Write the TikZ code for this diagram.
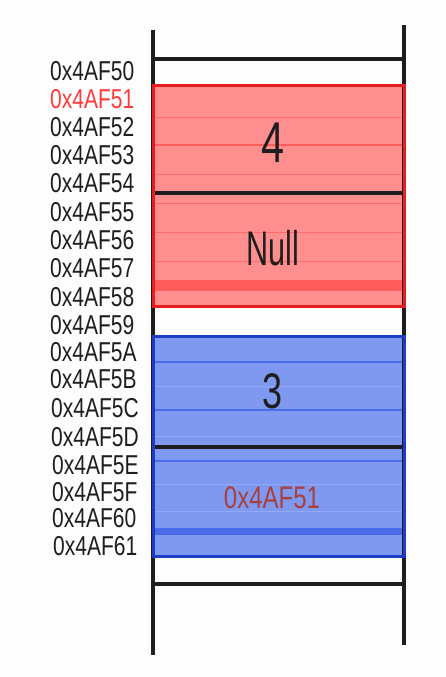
\documentclass[tikz,border=0pt]{standalone}
\usepackage{fontspec}
\usepackage{graphicx}
\setmainfont{Liberation Sans}
\definecolor{bg}{HTML}{FDFDFD}
\definecolor{redfill}{HTML}{FF8E8E}
\definecolor{redline}{HTML}{FF5C5C}
\definecolor{redlight}{HTML}{FFA0A0}
\definecolor{redborder}{HTML}{E81E1E}
\definecolor{bluefill}{HTML}{7F98F0}
\definecolor{blueline}{HTML}{4A6CE8}
\definecolor{bluelight}{HTML}{92A8F4}
\definecolor{blueborder}{HTML}{1E3CC8}
\definecolor{ink}{HTML}{1E1E1E}
\definecolor{addrred}{HTML}{FF3C3C}
\definecolor{ptrbrown}{HTML}{A8403E}
\newcommand{\tallA}[1]{\scalebox{1}[1.3]{#1}}
\tikzset{
  blk/.style={draw=ink, line width=3.2pt},
  addr/.style={anchor=west, inner sep=0pt, font=\fontsize{21}{21}\selectfont, text=ink},
  val/.style={inner sep=0pt, text=ink},
}
\begin{document}
\begin{tikzpicture}[x=1pt,y=-1pt]
\useasboundingbox[fill=bg] (0,0) rectangle (446,677);
% red block
\fill[redfill] (153,85) rectangle (404,306);
\foreach \y in {117,174,203,232,261}{\draw[redline!70!redfill, line width=1pt] (155,\y) -- (402,\y);}
\draw[redline, line width=2pt] (155,145) -- (402,145);
\fill[redline] (155,280) rectangle (402,291);
% blue block
\fill[bluefill] (153,336) rectangle (404,556);
\foreach \y in {386,436,484,511}{\draw[bluelight, line width=1pt] (155,\y) -- (402,\y);}
\foreach \y in {362,410,461}{\draw[blueline, line width=1.6pt] (155,\y) -- (402,\y);}
\fill[blueline] (155,528) rectangle (402,535);
% frame lines
\draw[blk] (153,30) -- (153,655);
\draw[blk] (404,25) -- (404,645);
\draw[blk] (153,59) -- (404,59);
\draw[blk] (153,193) -- (404,193);
\draw[blk] (153,447) -- (404,447);
\draw[blk] (153,584) -- (404,584);
\draw[draw=redborder, line width=3pt] (153,85) rectangle (404,306);
\draw[draw=blueborder, line width=3pt] (153,336) rectangle (404,556);
% values
\node[val, font=\fontsize{46}{46}\selectfont] (v4) at (273,143) {\scalebox{0.9}[1.25]{4}};
\node[val, font=\fontsize{36}{36}\selectfont] (vnull) at (273,248) {\scalebox{0.85}[1.35]{Null}};
\node[val, font=\fontsize{40}{40}\selectfont] (v3) at (273,391) {\scalebox{0.9}[1.25]{3}};
\node[val, font=\fontsize{24}{24}\selectfont, text=ptrbrown] (vptr) at (272,498) {\scalebox{1}[1.3]{0x4AF51}};
% addresses
\node[addr] (a50) at (50,71) {\tallA{0x4AF50}};
\node[addr, text=addrred] (a51) at (50,99) {\tallA{0x4AF51}};
\node[addr] (a52) at (50,127) {\tallA{0x4AF52}};
\node[addr] (a53) at (50,155) {\tallA{0x4AF53}};
\node[addr] (a54) at (50,183) {\tallA{0x4AF54}};
\node[addr] (a55) at (50,212) {\tallA{0x4AF55}};
\node[addr] (a56) at (50,240) {\tallA{0x4AF56}};
\node[addr] (a57) at (50,268) {\tallA{0x4AF57}};
\node[addr] (a58) at (50,297) {\tallA{0x4AF58}};
\node[addr] (a59) at (50,325) {\tallA{0x4AF59}};
\node[addr] (a5A) at (50,352) {\tallA{0x4AF5A}};
\node[addr] (a5B) at (50,379) {\tallA{0x4AF5B}};
\node[addr] (a5C) at (51,408) {\tallA{0x4AF5C}};
\node[addr] (a5D) at (51,437) {\tallA{0x4AF5D}};
\node[addr] (a5E) at (52,465) {\tallA{0x4AF5E}};
\node[addr] (a5F) at (52,492) {\tallA{0x4AF5F}};
\node[addr] (a60) at (52,518) {\tallA{0x4AF60}};
\node[addr] (a61) at (53,546) {\tallA{0x4AF61}};
\end{tikzpicture}
\end{document}
